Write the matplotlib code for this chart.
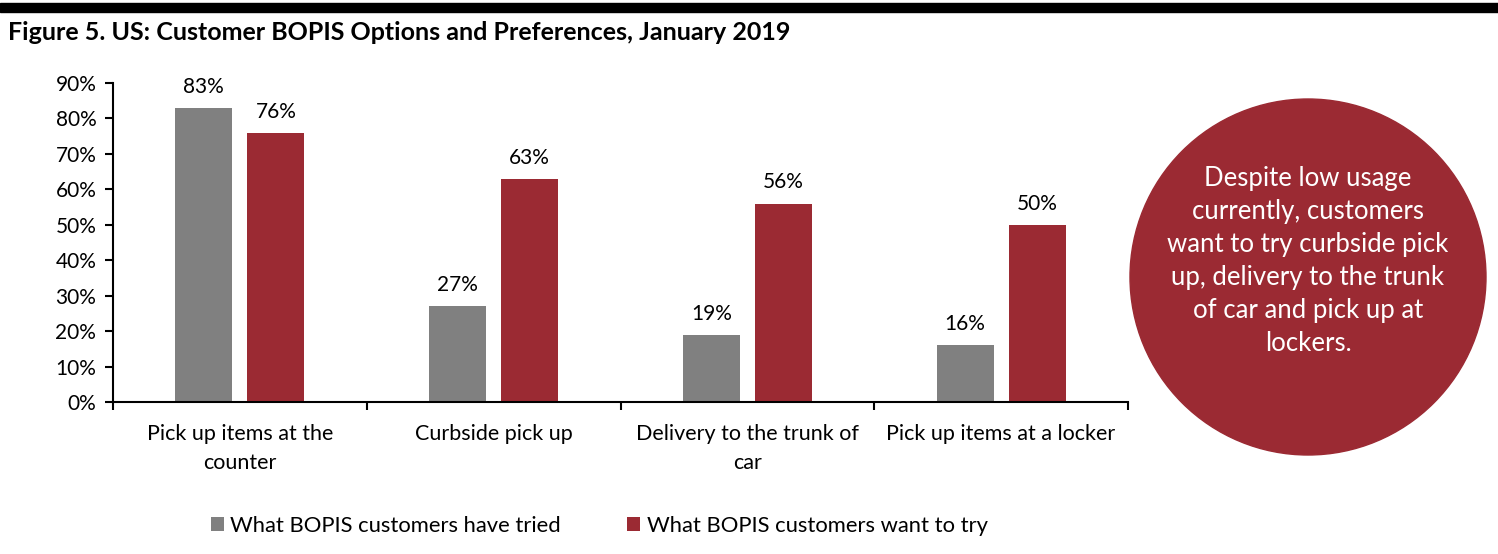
import matplotlib
matplotlib.use("Agg")
import matplotlib.pyplot as plt
from matplotlib.patches import Ellipse, Rectangle
import numpy as np

categories = ["Pick up items at the\ncounter", "Curbside pick up",
              "Delivery to the trunk of\ncar", "Pick up items at a locker"]
tried = [83, 27, 19, 16]
want = [76, 63, 56, 50]
series_names = ["What BOPIS customers have tried", "What BOPIS customers want to try"]
yticks = [0, 10, 20, 30, 40, 50, 60, 70, 80, 90]
note = ("Despite low usage\ncurrently, customers\nwant to try curbside pick\n"
        "up, delivery to the trunk\nof car and pick up at\nlockers.")

GRAY = "#808080"
RED = "#9B2A33"
plt.rcParams['font.family'] = ['Lato', 'DejaVu Sans']

W, H = 1498, 554
fig = plt.figure(figsize=(W/100, H/100), dpi=100)

# top black band
fig.patches.append(Rectangle((0, 1-12/H), 1, 9/H, transform=fig.transFigure,
                             color="black", zorder=0))
fig.text(8/W, 1-33/H, "Figure 5. US: Customer BOPIS Options and Preferences, January 2019",
         fontsize=18, fontweight="bold", va="center", ha="left")

FS = 15
ax = fig.add_axes([113/W, 1-402/H, (1128-113)/W, (402-83)/H])
x = np.arange(len(categories))
bw = 0.224
off = 0.142
b1 = ax.bar(x - off, tried, bw, color=GRAY, label=series_names[0])
b2 = ax.bar(x + off, want, bw, color=RED, label=series_names[1])
for bars, vals in ((b1, tried), (b2, want)):
    for r, v in zip(bars, vals):
        ax.annotate(f"{v}%", (r.get_x() + r.get_width()/2, v), xytext=(0, 8),
                    textcoords="offset points", ha="center", va="bottom", fontsize=FS)

ax.set_xlim(-0.5, len(categories) - 0.5)
ax.set_ylim(0, 90)
ax.set_yticks(yticks)
ax.set_yticklabels([f"{t}%" for t in yticks], fontsize=FS)
ax.set_xticks(np.arange(len(categories) + 1) - 0.5)
ax.set_xticklabels([])
ax.set_xticks(x, minor=True)
ax.set_xticklabels(categories, minor=True, fontsize=15.5, linespacing=1.55)
ax.tick_params(axis="x", which="minor", length=0, pad=16)
ax.tick_params(axis="x", which="major", length=6, width=1.5, direction="out")
ax.tick_params(axis="y", length=6, width=1.5, direction="out", pad=6)
for s in ("top", "right"):
    ax.spines[s].set_visible(False)
for s in ("left", "bottom"):
    ax.spines[s].set_linewidth(1.5)

leg = fig.legend(handles=[b1, b2], labels=series_names, loc="center",
                 bbox_to_anchor=(0.40, 1-526/H), ncol=2, frameon=False,
                 fontsize=15.8, handlelength=0.6, handleheight=0.6,
                 handletextpad=0.3, columnspacing=3.0)

# circle callout
cx, cy, r = 1308, 277, 178
fig.patches.append(Ellipse((cx/W, 1-cy/H), 2*r/W, 2*r/H, transform=fig.transFigure,
                           color=RED, zorder=1))
fig.text(cx/W, 1-261/H, note, color="white", fontsize=18.5, ha="center", va="center",
         linespacing=1.4, zorder=2)

fig.savefig("out.png", dpi=100)
